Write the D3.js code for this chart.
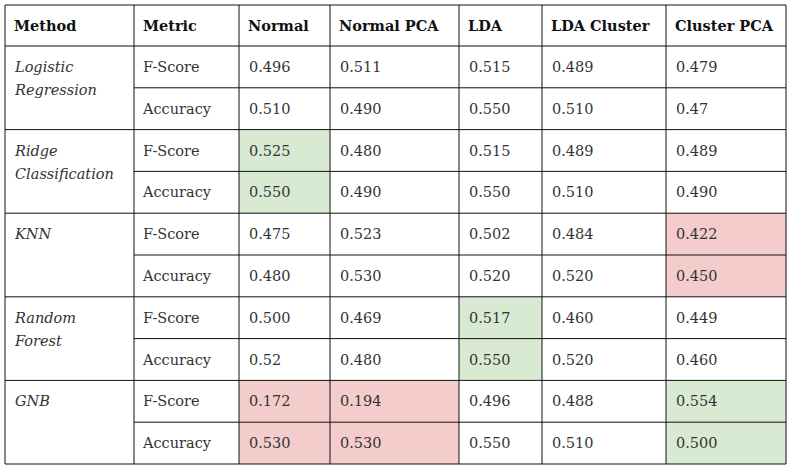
<!DOCTYPE html><html><head><meta charset="utf-8"><script src="https://cdn.jsdelivr.net/npm/d3@7"></script>
<style>body{margin:0;background:#fff}</style></head><body><svg id="c" width="791" height="468"></svg><script>
const columns=["Method","Metric","Normal","Normal PCA","LDA","LDA Cluster","Cluster PCA"];
const methods=["Logistic\nRegression","Ridge\nClassification","KNN","Random\nForest","GNB"];
const metrics=["F-Score","Accuracy"];
const values=[
["0.496","0.511","0.515","0.489","0.479"],["0.510","0.490","0.550","0.510","0.47"],
["0.525","0.480","0.515","0.489","0.489"],["0.550","0.490","0.550","0.510","0.490"],
["0.475","0.523","0.502","0.484","0.422"],["0.480","0.530","0.520","0.520","0.450"],
["0.500","0.469","0.517","0.460","0.449"],["0.52","0.480","0.550","0.520","0.460"],
["0.172","0.194","0.496","0.488","0.554"],["0.530","0.530","0.550","0.510","0.500"]];
const highlights=[
["","","","",""],["","","","",""],["g","","","",""],["g","","","",""],
["","","","","r"],["","","","","r"],["","","g","",""],["","","g","",""],
["r","r","","","g"],["r","r","","","g"]];
const colX=[5,134,239,330,459,542,666,786];
const svg=d3.select("#c");
const y=d3.scaleLinear().domain([0,10]).range([46,464]);
const font="'DejaVu Serif',serif";
const fill={g:"#d9ead3",r:"#f4cccc"};
values.forEach((row,i)=>row.forEach((v,j)=>{
 if(highlights[i][j]) svg.append("rect").attr("x",colX[j+2]).attr("y",y(i)).attr("width",colX[j+3]-colX[j+2]).attr("height",y(i+1)-y(i)).attr("fill",fill[highlights[i][j]]);
 svg.append("text").attr("x",colX[j+2]+10).attr("y",(y(i)+y(i+1))/2+5).text(v).attr("font-family",font).attr("font-size",14.5).attr("fill","#333");
 }));
columns.forEach((c,j)=>svg.append("text").attr("x",colX[j]+9).attr("y",31).text(c).attr("font-family",font).attr("font-size",14.5).attr("font-weight","bold").attr("fill","#111"));
values.forEach((r,i)=>svg.append("text").attr("x",colX[1]+9).attr("y",(y(i)+y(i+1))/2+5).text(metrics[i%2]).attr("font-family",font).attr("font-size",14.5).attr("fill","#333"));
methods.forEach((m,k)=>m.split("\n").forEach((l,t)=>svg.append("text").attr("x",colX[0]+10).attr("y",y(2*k)+26+t*23).text(l).attr("font-family",font).attr("font-size",14.5).attr("font-style","italic").attr("fill","#333")));
const ln=(x1,y1,x2,y2)=>svg.append("line").attr("x1",x1).attr("y1",y1).attr("x2",x2).attr("y2",y2).attr("stroke","#111").attr("stroke-width",1);
colX.forEach(x=>ln(x,5,x,464));
ln(5,5,786,5);
for(let i=0;i<=10;i++) ln(i%2?colX[1]:5,y(i),786,y(i));
</script></body></html>
